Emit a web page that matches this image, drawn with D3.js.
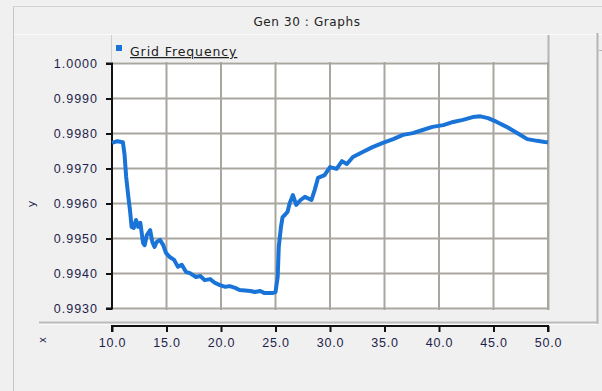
<!DOCTYPE html>
<html><head><meta charset="utf-8">
<script src="https://cdnjs.cloudflare.com/ajax/libs/d3/7.8.5/d3.min.js"></script>
<style>
html,body{margin:0;padding:0;background:#f0f0f0;}
svg{display:block;font-family:"DejaVu Sans",Verdana,sans-serif;}
</style></head>
<body>
<svg id="c" width="602" height="391"></svg>
<script>
const chartTitle = "Gen 30 : Graphs";
const seriesName = "Grid Frequency";
const xTicks = [10, 15, 20, 25, 30, 35, 40, 45, 50];
const yTicks = [0.9930, 0.9940, 0.9950, 0.9960, 0.9970, 0.9980, 0.9990, 1.0000];
const timeVals = [10.0,10.5,11.0,11.15,11.3,11.5,11.65,11.8,12.0,12.2,12.4,12.6,12.85,13.0,13.2,13.5,13.7,13.9,14.1,14.4,14.7,14.95,15.3,15.7,16.05,16.4,16.8,17.15,17.7,18.1,18.5,19.0,19.45,19.9,20.4,20.8,21.3,21.7,22.7,23.1,23.6,24.0,24.7,25.0,25.2,25.3,25.5,25.65,25.85,26.1,26.3,26.6,26.9,27.3,27.7,28.3,28.6,28.9,29.5,30.0,30.6,31.1,31.55,32.1,33.0,33.9,34.85,35.8,36.7,37.6,38.5,39.4,40.4,41.3,42.2,43.1,43.8,44.5,45.3,46.2,47.2,48.1,49.0,49.7,50.0];
const freqVals = [0.99773,0.99778,0.99775,0.99740,0.99676,0.99619,0.99581,0.99533,0.99530,0.99553,0.99533,0.99545,0.99487,0.99481,0.99510,0.99524,0.99490,0.99476,0.99490,0.99496,0.99481,0.99459,0.99447,0.99439,0.99419,0.99425,0.99404,0.99401,0.99390,0.99393,0.99381,0.99384,0.99373,0.99367,0.99362,0.99364,0.99359,0.99353,0.99350,0.99347,0.99350,0.99344,0.99344,0.99347,0.99390,0.99476,0.99533,0.99561,0.99567,0.99576,0.99601,0.99624,0.99596,0.99610,0.99619,0.99610,0.99639,0.99673,0.99681,0.99704,0.99699,0.99721,0.99713,0.99733,0.99747,0.99761,0.99773,0.99784,0.99796,0.99801,0.99810,0.99819,0.99824,0.99833,0.99839,0.99847,0.99849,0.99844,0.99833,0.99819,0.99801,0.99784,0.99779,0.99776,0.99775];

const svg = d3.select("#c");
const X0 = 112, X1 = 548, Y0 = 63.5, Y1 = 308.5;
const x = d3.scaleLinear().domain([10, 50]).range([X0, X1]);
const y = d3.scaleLinear().domain([0.9930, 1.0000]).range([Y1, Y0]);

// window frame
svg.append("line").attr("x1",13.5).attr("x2",13.5).attr("y1",6).attr("y2",391).attr("stroke","#c6c6c6");
svg.append("line").attr("x1",13).attr("x2",602).attr("y1",6.5).attr("y2",6.5).attr("stroke","#d2d2d2");
svg.append("line").attr("x1",14).attr("x2",602).attr("y1",34.5).attr("y2",34.5).attr("stroke","#fafafa");
svg.append("text").attr("x",307).attr("y",26).attr("text-anchor","middle")
  .attr("font-size",12).attr("fill","#222").style("letter-spacing","0.6px").text(chartTitle);

// panel separators
svg.append("line").attr("x1",111.5).attr("x2",111.5).attr("y1",35).attr("y2",62).attr("stroke","#cfcfcf");
svg.append("line").attr("x1",548.5).attr("x2",548.5).attr("y1",35).attr("y2",310).attr("stroke","#b4b4b4").attr("stroke-width",2);
svg.append("line").attr("x1",597.5).attr("x2",597.5).attr("y1",33).attr("y2",324).attr("stroke","#b4b4b4").attr("stroke-width",2);
svg.append("line").attr("x1",599).attr("x2",602).attr("y1",50.5).attr("y2",50.5).attr("stroke","#b4b4b4");
svg.append("line").attr("x1",39).attr("x2",598).attr("y1",322.5).attr("y2",322.5).attr("stroke","#bcbcbc").attr("stroke-width",2);
svg.append("line").attr("x1",39).attr("x2",598).attr("y1",324.5).attr("y2",324.5).attr("stroke","#fbfbfb");

// plot background
svg.append("rect").attr("x",X0).attr("y",62).attr("width",X1-X0).attr("height",310-62).attr("fill","#fff");

// grid
const grid = svg.append("g").attr("stroke","#a9a59f").attr("stroke-width",2);
grid.selectAll("line.v").data(xTicks.slice(1)).join("line").attr("class","v")
  .attr("x1",d=>x(d)).attr("x2",d=>x(d)).attr("y1",62).attr("y2",310);
grid.selectAll("line.h").data(yTicks).join("line").attr("class","h")
  .attr("x1",X0).attr("x2",X1).attr("y1",d=>y(d)).attr("y2",d=>y(d));

// legend
svg.append("rect").attr("x",116).attr("y",45).attr("width",6).attr("height",6).attr("fill","#1a74d8");
svg.append("text").attr("x",130).attr("y",56).attr("font-size",12.5).attr("fill","#202020")
  .style("letter-spacing","0.9px").attr("text-decoration","underline").text(seriesName);

// y axis
const yAxis = d3.axisLeft(y).tickValues(yTicks).tickFormat(d3.format(".4f")).tickSize(6).tickPadding(8);
const gy = svg.append("g").attr("transform",`translate(${X0},0)`).call(yAxis);
gy.select(".domain").attr("stroke","#111").attr("stroke-width",2).attr("d",`M-6,${Y0}H0V${Y1}H-6`);
gy.selectAll(".tick line").attr("stroke","#111").attr("stroke-width",2);
gy.selectAll(".tick text").attr("font-size",12.5).attr("fill","#1e1e4a").style("letter-spacing","1px");

// x axis
const xAxis = d3.axisBottom(x).tickValues(xTicks).tickFormat(d3.format(".1f")).tickSize(6).tickPadding(6);
const gx = svg.append("g").attr("transform","translate(0,326)").call(xAxis);
gx.select(".domain").attr("stroke","#111").attr("stroke-width",2).attr("d",`M${X0},6V0H${X1}V6`);
gx.selectAll(".tick line").attr("stroke","#111").attr("stroke-width",2);
gx.selectAll(".tick text").attr("font-size",12.5).attr("fill","#1e1e4a").style("letter-spacing","0.8px");

// axis titles
svg.append("text").attr("transform","translate(35,204) rotate(-90)").attr("text-anchor","middle")
  .attr("font-size",11).attr("fill","#1e1e4a").text("y");
svg.append("text").attr("transform","translate(43,340) rotate(-90)").attr("text-anchor","middle")
  .attr("dominant-baseline","middle").attr("font-size",10).attr("fill","#1e1e4a").text("x");

// series
const pts = timeVals.map((t,i)=>[t,freqVals[i]]);
const line = d3.line().x(d=>x(d[0])).y(d=>y(d[1]));
svg.append("path").datum(pts).attr("d",line).attr("fill","none")
  .attr("stroke","#1a74d8").attr("stroke-width",4).attr("stroke-linejoin","round");
</script>
</body></html>
